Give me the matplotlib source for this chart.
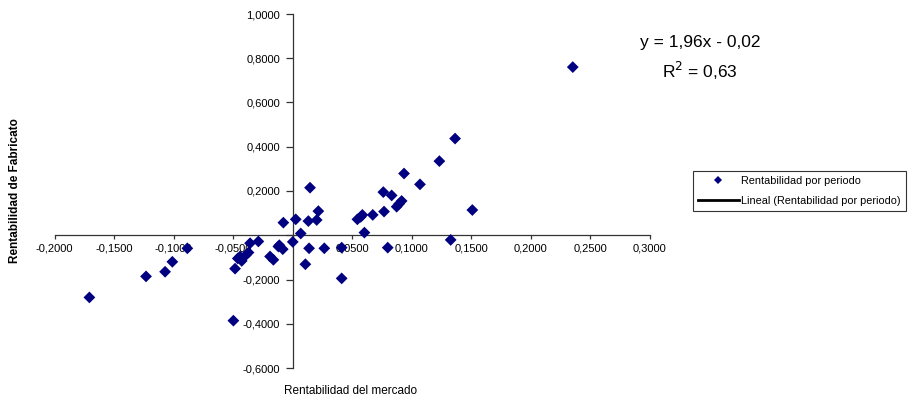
import numpy as np
import matplotlib
matplotlib.use("Agg")
import matplotlib.pyplot as plt
from matplotlib.lines import Line2D
from matplotlib.ticker import FuncFormatter, MultipleLocator

plt.rcParams['font.family'] = ['Liberation Sans', 'DejaVu Sans']

# Rentabilidad mensual: mercado (x) vs Fabricato (y)
rent_mercado = [
    -0.1707, -0.1231, -0.1071, -0.1010, -0.0884, -0.0497, -0.0483, -0.0441,
    -0.0393, -0.0427, -0.0370, -0.0460, -0.0357, -0.0287, -0.0189, -0.0161,
    -0.0119, -0.0111, -0.0082, -0.0077, 0.0002, 0.0027, 0.0069, 0.0108,
    0.0133, 0.0139, 0.0147, 0.0203, 0.0217, 0.0267, 0.0413, 0.0413,
    0.0545, 0.0573, 0.0587, 0.0604, 0.0674, 0.0769, 0.0763, 0.0800,
    0.0833, 0.0875, 0.0896, 0.0917, 0.0937, 0.1071, 0.1234, 0.1329,
    0.1366, 0.1511, 0.2355,
]
rent_fabricato = [
    -0.281, -0.186, -0.165, -0.120, -0.059, -0.386, -0.151, -0.096,
    -0.090, -0.116, -0.078, -0.105, -0.036, -0.028, -0.096, -0.111,
    -0.051, -0.045, -0.063, 0.057, -0.030, 0.072, 0.008, -0.131,
    0.064, -0.059, 0.215, 0.069, 0.109, -0.059, -0.056, -0.195,
    0.072, 0.083, 0.092, 0.012, 0.092, 0.107, 0.195, -0.056,
    0.180, 0.129, 0.142, 0.155, 0.279, 0.230, 0.335, -0.021,
    0.437, 0.114, 0.760,
]

ecuacion = "y = 1,96x - 0,02"
r_cuadrado = "R$^2$ = 0,63"

color_punto = '#000080'

fig = plt.figure(figsize=(9.12, 4.0), dpi=100)
ax = fig.add_axes([0.0598, 0.08, 0.6524, 0.885])

ax.scatter(rent_mercado, rent_fabricato, marker='D', s=36, color=color_punto,
           edgecolors='none', zorder=3)

ax.set_xlim(-0.2, 0.3)
ax.set_ylim(-0.6, 1.0)
ax.xaxis.set_major_locator(MultipleLocator(0.05))
ax.yaxis.set_major_locator(MultipleLocator(0.2))

def coma(v, pos):
    if abs(v) < 1e-9:
        return ''
    return f"{v:.4f}".replace('.', ',')

ax.xaxis.set_major_formatter(FuncFormatter(coma))
ax.yaxis.set_major_formatter(FuncFormatter(coma))

# ejes cruzando en el origen, estilo Excel
for lado in ['top', 'right']:
    ax.spines[lado].set_visible(False)
for lado in ['left', 'bottom']:
    ax.spines[lado].set_position(('data', 0))
    ax.spines[lado].set_color('#333333')
    ax.spines[lado].set_linewidth(0.9)

ax.tick_params(axis='x', direction='out', length=3, width=0.9, pad=3,
               labelsize=8, color='#333333')
ax.tick_params(axis='y', direction='out', length=5, width=0.9, pad=4,
               labelsize=8, color='#333333')
ax.patch.set_alpha(0)

fig.text(351 / 912, 1 - 391 / 400, "Rentabilidad del mercado", fontsize=8.5,
         ha='center', va='center')
fig.text(15 / 912, 1 - 191 / 400, "Rentabilidad de Fabricato", fontsize=8.5,
         fontweight='bold', rotation=90, ha='center', va='center')

fig.text(700 / 912, 1 - 43 / 400, ecuacion, fontsize=12.5, ha='center', va='center')
fig.text(700 / 912, 1 - 71 / 400, r_cuadrado, fontsize=12.5, ha='center', va='center')

handles = [
    Line2D([], [], marker='D', linestyle='none', color=color_punto,
           markersize=4, markeredgewidth=0),
    Line2D([], [], color='black', linewidth=2),
]
leg = fig.legend(handles, ["Rentabilidad por periodo", "Lineal (Rentabilidad por periodo)"],
                 loc='upper left', bbox_to_anchor=(693 / 912, 1 - 171 / 400),
                 fontsize=7.8, frameon=True, fancybox=False, borderaxespad=0,
                 handlelength=3.8, handletextpad=0.2, borderpad=0.45,
                 labelspacing=0.9)
leg.get_frame().set_edgecolor('black')
leg.get_frame().set_linewidth(0.8)

fig.savefig("out.png", dpi=100)
